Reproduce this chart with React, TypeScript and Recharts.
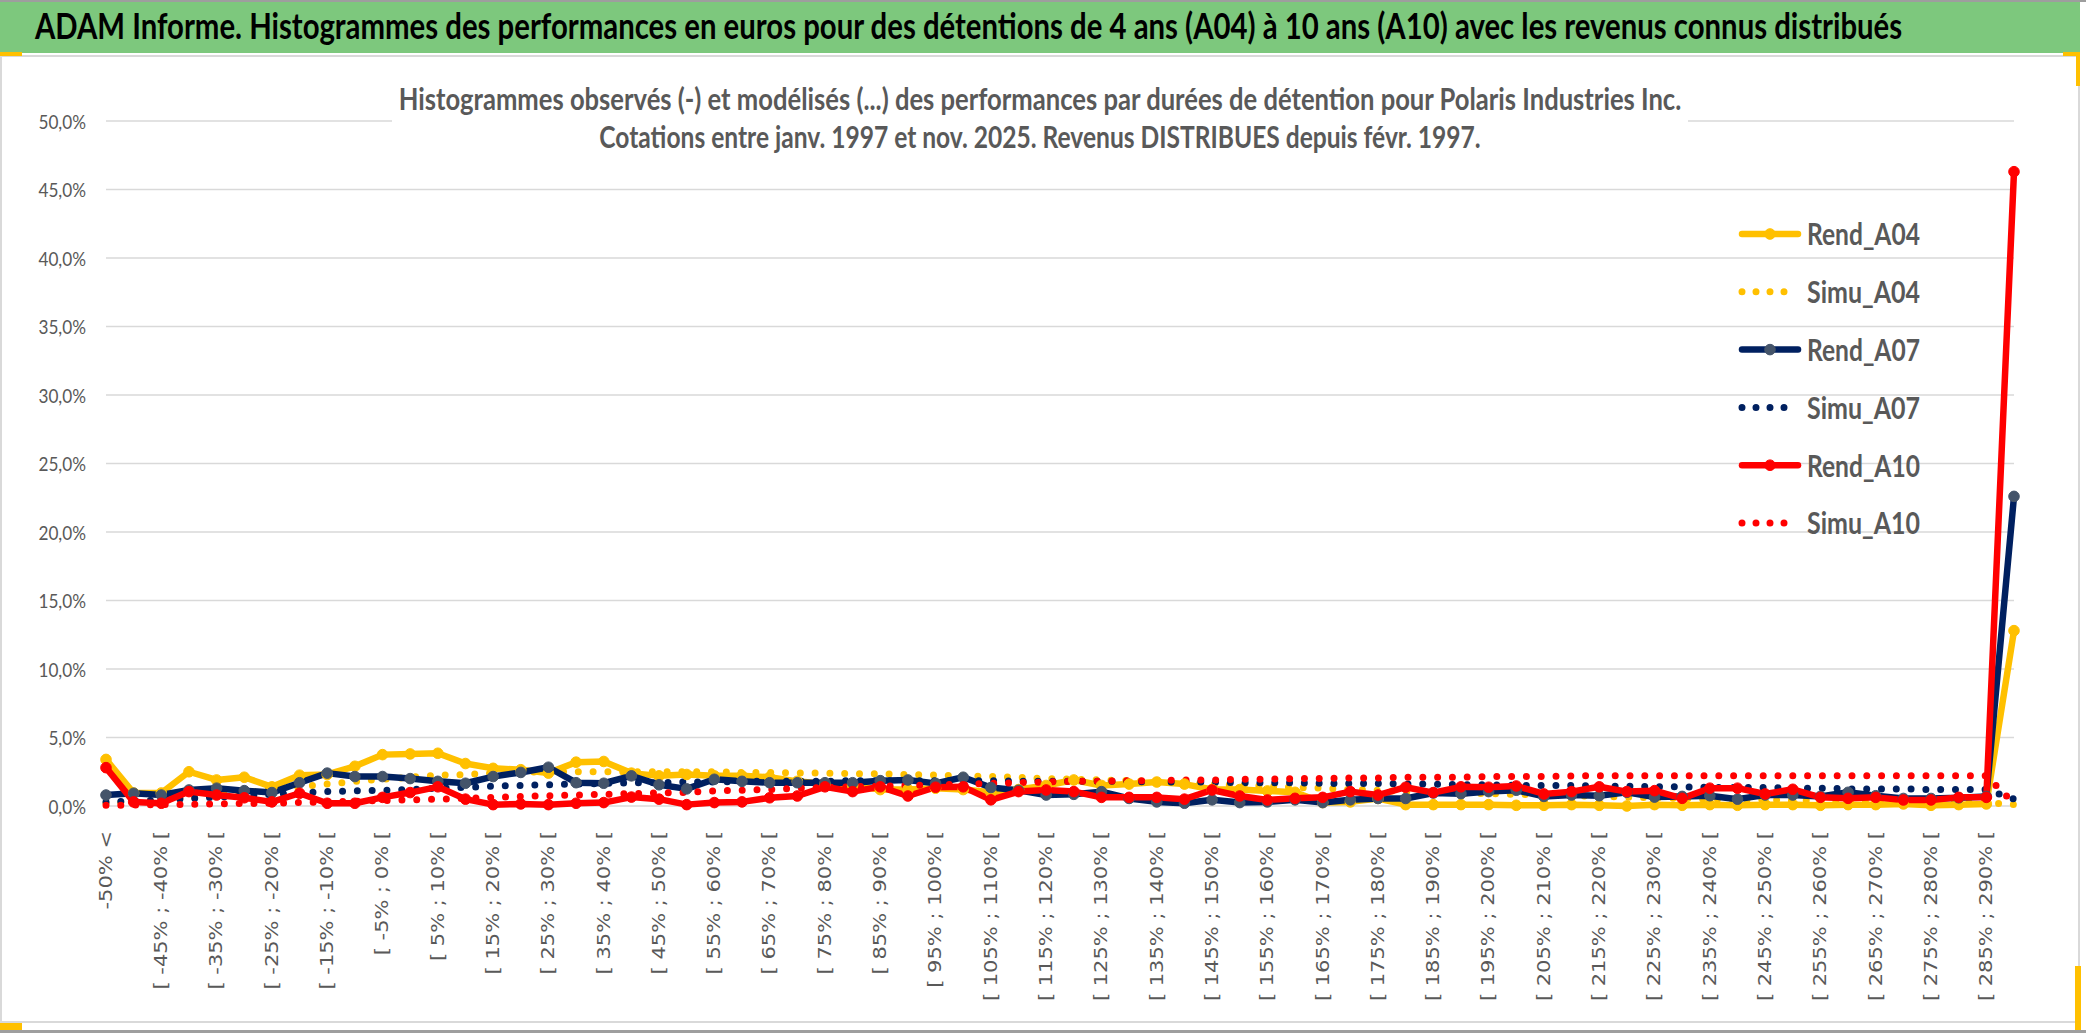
import React from "react";
import { CartesianGrid, Legend, Line, LineChart, XAxis, YAxis } from "recharts";

const WIDTH = 2086;
const HEIGHT = 1033;
const TEXT_GREY = "#595959";
const GRID_GREY = "#D9D9D9";
const UI_FAMILY = "Lato";
const UI_FONT = "Lato, 'Open Sans', 'Noto Sans', sans-serif";
const AXIS_FONT = "'DejaVu Sans', Verdana, sans-serif";

const TITLE =
  "ADAM Informe. Histogrammes des performances en euros pour des détentions de 4 ans (A04) à 10 ans (A10) avec les revenus connus distribués";
const SUBTITLE_1 =
  "Histogrammes observés (-) et modélisés (...) des performances par durées de détention pour Polaris Industries Inc.";
const SUBTITLE_2 = "Cotations entre janv. 1997 et nov. 2025. Revenus DISTRIBUES depuis févr. 1997.";

const CATEGORIES = [
  "-50% <",
  "[ -50% ; -45% [", "[ -45% ; -40% [", "[ -40% ; -35% [", "[ -35% ; -30% [", "[ -30% ; -25% [",
  "[ -25% ; -20% [", "[ -20% ; -15% [", "[ -15% ; -10% [", "[ -10% ; -5% [", "[ -5% ; 0% [",
  "[ 0% ; 5% [", "[ 5% ; 10% [", "[ 10% ; 15% [", "[ 15% ; 20% [", "[ 20% ; 25% [",
  "[ 25% ; 30% [", "[ 30% ; 35% [", "[ 35% ; 40% [", "[ 40% ; 45% [", "[ 45% ; 50% [",
  "[ 50% ; 55% [", "[ 55% ; 60% [", "[ 60% ; 65% [", "[ 65% ; 70% [", "[ 70% ; 75% [",
  "[ 75% ; 80% [", "[ 80% ; 85% [", "[ 85% ; 90% [", "[ 90% ; 95% [", "[ 95% ; 100% [",
  "[ 100% ; 105% [", "[ 105% ; 110% [", "[ 110% ; 115% [", "[ 115% ; 120% [", "[ 120% ; 125% [",
  "[ 125% ; 130% [", "[ 130% ; 135% [", "[ 135% ; 140% [", "[ 140% ; 145% [", "[ 145% ; 150% [",
  "[ 150% ; 155% [", "[ 155% ; 160% [", "[ 160% ; 165% [", "[ 165% ; 170% [", "[ 170% ; 175% [",
  "[ 175% ; 180% [", "[ 180% ; 185% [", "[ 185% ; 190% [", "[ 190% ; 195% [", "[ 195% ; 200% [",
  "[ 200% ; 205% [", "[ 205% ; 210% [", "[ 210% ; 215% [", "[ 215% ; 220% [", "[ 220% ; 225% [",
  "[ 225% ; 230% [", "[ 230% ; 235% [", "[ 235% ; 240% [", "[ 240% ; 245% [", "[ 245% ; 250% [",
  "[ 250% ; 255% [", "[ 255% ; 260% [", "[ 260% ; 265% [", "[ 265% ; 270% [", "[ 270% ; 275% [",
  "[ 275% ; 280% [", "[ 280% ; 285% [", "[ 285% ; 290% [",
  "> 290%",
];

const Y_TICKS = [0, 5, 10, 15, 20, 25, 30, 35, 40, 45, 50];
const GRID_EVERY = 4; // vertical gridline every 4 classes

// values in %
const REND_A04 = [
  3.4, 0.95, 0.95, 2.5, 1.9, 2.1, 1.4, 2.25, 2.3, 2.9,
  3.75, 3.8, 3.85, 3.1, 2.75, 2.65, 2.4, 3.2, 3.25, 2.4,
  2.2, 2.3, 2.2, 2.2, 2.1, 1.8, 1.6, 1.5, 1.2, 1.2,
  1.3, 1.2, 1.0, 1.2, 1.5, 1.9, 1.5, 1.6, 1.75, 1.6,
  1.2, 1.2, 1.1, 1.0, 0.25, 0.3, 0.55, 0.1, 0.1, 0.1,
  0.1, 0.05, 0.05, 0.1, 0.05, 0.0, 0.1, 0.05, 0.1, 0.05,
  0.1, 0.1, 0.05, 0.1, 0.1, 0.15, 0.05, 0.1, 0.15, 12.8,
];
const SIMU_A04 = [
  0.2, 0.3, 0.45, 0.6, 0.8, 1.0, 1.2, 1.4, 1.6, 1.8,
  1.95, 2.1, 2.25, 2.3, 2.4, 2.45, 2.5, 2.5, 2.5, 2.5,
  2.5, 2.5, 2.5, 2.45, 2.45, 2.4, 2.4, 2.35, 2.35, 2.3,
  2.25, 2.2, 2.15, 2.1, 2.0, 1.95, 1.9, 1.85, 1.8, 1.7,
  1.6, 1.5, 1.45, 1.35, 1.3, 1.2, 1.15, 1.05, 1.0, 0.95,
  0.9, 0.85, 0.8, 0.75, 0.7, 0.65, 0.6, 0.55, 0.5, 0.5,
  0.45, 0.4, 0.4, 0.35, 0.35, 0.3, 0.3, 0.25, 0.25, 0.1,
];
const REND_A07 = [
  0.8, 0.93, 0.8, 1.17, 1.3, 1.12, 0.98, 1.7, 2.4, 2.15,
  2.15, 2.0, 1.8, 1.66, 2.15, 2.45, 2.83, 1.7, 1.66, 2.2,
  1.55, 1.25, 1.95, 1.8, 1.7, 1.7, 1.7, 1.7, 1.85, 1.9,
  1.65, 2.1, 1.35, 1.15, 0.8, 0.85, 1.05, 0.55, 0.3, 0.2,
  0.45, 0.25, 0.3, 0.45, 0.25, 0.45, 0.55, 0.55, 0.95, 0.9,
  1.05, 1.15, 0.7, 0.8, 0.75, 1.0, 0.65, 0.7, 0.75, 0.5,
  0.8, 0.8, 0.7, 1.0, 0.75, 0.55, 0.55, 0.6, 0.7, 22.6,
];
const SIMU_A07 = [
  0.3, 0.35, 0.45, 0.55, 0.65, 0.75, 0.85, 0.95, 1.05, 1.1,
  1.15, 1.2, 1.3, 1.35, 1.45, 1.5, 1.55, 1.6, 1.65, 1.7,
  1.7, 1.75, 1.75, 1.8, 1.8, 1.8, 1.8, 1.85, 1.85, 1.85,
  1.85, 1.85, 1.85, 1.8, 1.8, 1.8, 1.8, 1.8, 1.75, 1.75,
  1.75, 1.7, 1.7, 1.7, 1.65, 1.65, 1.65, 1.6, 1.6, 1.55,
  1.55, 1.5, 1.5, 1.5, 1.45, 1.45, 1.4, 1.4, 1.35, 1.35,
  1.35, 1.3, 1.3, 1.25, 1.25, 1.25, 1.2, 1.2, 1.2, 0.5,
];
const REND_A10 = [
  2.8, 0.3, 0.2, 1.05, 0.8, 0.6, 0.3, 0.93, 0.2, 0.2,
  0.63, 0.98, 1.4, 0.5, 0.1, 0.15, 0.1, 0.2, 0.25, 0.65,
  0.5, 0.1, 0.25, 0.3, 0.6, 0.73, 1.4, 1.05, 1.4, 0.73,
  1.37, 1.4, 0.45, 1.05, 1.17, 1.05, 0.63, 0.63, 0.63, 0.5,
  1.17, 0.73, 0.44, 0.56, 0.63, 1.05, 0.8, 1.37, 0.98, 1.4,
  1.37, 1.46, 0.88, 1.05, 1.4, 1.05, 1.12, 0.56, 1.3, 1.3,
  0.88, 1.22, 0.63, 0.56, 0.63, 0.44, 0.44, 0.63, 0.63, 46.3,
];
const SIMU_A10 = [
  0.05, 0.07, 0.1, 0.12, 0.15, 0.18, 0.2, 0.25, 0.3, 0.35,
  0.4, 0.45, 0.5, 0.55, 0.62, 0.7, 0.75, 0.8, 0.85, 0.9,
  0.95, 1.0, 1.1, 1.15, 1.2, 1.3, 1.35, 1.4, 1.45, 1.5,
  1.55, 1.6, 1.65, 1.7, 1.75, 1.8, 1.8, 1.85, 1.85, 1.9,
  1.9, 1.95, 1.95, 2.0, 2.0, 2.05, 2.05, 2.1, 2.1, 2.1,
  2.15, 2.15, 2.15, 2.2, 2.2, 2.2, 2.2, 2.2, 2.2, 2.2,
  2.2, 2.2, 2.2, 2.2, 2.2, 2.2, 2.2, 2.2, 2.2, 0.2,
];

interface SeriesSpec {
  key: string;
  values: number[];
  color: string;
  marker?: string;
  dotted: boolean;
}

const SERIES: SeriesSpec[] = [
  { key: "Rend_A04", values: REND_A04, color: "#FFC000", marker: "#FFC000", dotted: false },
  { key: "Simu_A04", values: SIMU_A04, color: "#FFC000", dotted: true },
  { key: "Rend_A07", values: REND_A07, color: "#002060", marker: "#44546A", dotted: false },
  { key: "Simu_A07", values: SIMU_A07, color: "#002060", dotted: true },
  { key: "Rend_A10", values: REND_A10, color: "#FF0000", marker: "#FF0000", dotted: false },
  { key: "Simu_A10", values: SIMU_A10, color: "#FF0000", dotted: true },
];

const chartData = CATEGORIES.map((category, i) => {
  const row: Record<string, string | number> = { category };
  SERIES.forEach(s => {
    row[s.key] = s.values[i];
  });
  return row;
});

const formatPct = (v: number) => `${v.toFixed(1).replace(".", ",")}%`;

// measure text so the narrow Excel look can be had with a plain horizontal scale
const measureCtx = typeof document !== "undefined" ? document.createElement("canvas").getContext("2d") : null;
function naturalWidth(text: string, size: number, weight: number): number {
  if (!measureCtx) return 0;
  measureCtx.font = `${weight} ${size}px ${UI_FAMILY}, sans-serif`;
  return measureCtx.measureText(text).width;
}

interface FitTextProps {
  x: number;
  y: number;
  width: number;
  size: number;
  weight?: number;
  fill: string;
  anchor?: "start" | "middle" | "end";
  baseline?: string;
  children: string;
}

function FitText({ x, y, width, size, weight = 700, fill, anchor = "start", baseline, children }: FitTextProps) {
  const w = naturalWidth(children, size, weight) || width;
  const sx = width / w;
  return (
    <text
      transform={`translate(${x},${y}) scale(${sx.toFixed(4)},1)`}
      textAnchor={anchor}
      dominantBaseline={baseline}
      fontSize={size}
      fontWeight={weight}
      fontFamily={UI_FONT}
      fill={fill}
    >
      {children}
    </text>
  );
}

function YTick(props: any) {
  const { x, y, payload } = props;
  return (
    <text
      transform={`translate(${x},${y}) scale(0.86,1)`}
      textAnchor="end"
      dominantBaseline="central"
      fill={TEXT_GREY}
      fontSize={20}
      fontFamily={UI_FONT}
    >
      {formatPct(payload.value)}
    </text>
  );
}

function XTick(props: any) {
  const { x, y, payload } = props;
  return (
    <g transform={`translate(${x},${y})`}>
      <text
        transform="rotate(-90) scale(1,0.82)"
        textAnchor="end"
        dominantBaseline="central"
        fill={TEXT_GREY}
        fontSize={21}
        fontFamily={AXIS_FONT}
      >
        {payload.value}
      </text>
    </g>
  );
}

// vertical gridlines only every GRID_EVERY classes, placed by the x scale
function verticalGrid(props: any): number[] {
  const scale = props?.xAxis?.scale;
  if (typeof scale !== "function") return [];
  return CATEGORIES.filter((_, i) => i % GRID_EVERY === 0).map(c => scale(c));
}

const LEGEND_ROW = 57.8;

function LegendContent(props: any) {
  const payload: any[] = props.payload || [];
  const ordered = SERIES.map(s => payload.find(p => p.dataKey === s.key || p.value === s.key)).filter(Boolean);
  return (
    <svg width={260} height={340} style={{ display: "block" }}>
      {ordered.map((p: any, i: number) => {
        const spec = SERIES.find(s => s.key === p.dataKey || s.key === p.value)!;
        const cy = 22 + i * LEGEND_ROW;
        return (
          <g key={spec.key}>
            {spec.dotted ? (
              <line x1={9} x2={64} y1={cy} y2={cy} stroke={spec.color} strokeWidth={7} strokeDasharray="0 14" strokeLinecap="round" />
            ) : (
              <g>
                <line x1={9} x2={65} y1={cy} y2={cy} stroke={spec.color} strokeWidth={6.5} strokeLinecap="round" />
                <circle cx={37} cy={cy} r={5.3} fill={spec.marker} stroke={spec.marker} />
              </g>
            )}
            <FitText x={74} y={cy} width={113} size={30} fill={TEXT_GREY} baseline="central">
              {String(p.value)}
            </FitText>
          </g>
        );
      })}
    </svg>
  );
}

export default function App() {
  return (
    <div style={{ position: "absolute", left: 0, top: 0, width: WIDTH, height: HEIGHT, background: "#fff", overflow: "hidden" }}>
      <style>{"body{margin:0;overflow:hidden}"}</style>

      {/* frame and title band */}
      <svg width={WIDTH} height={HEIGHT} style={{ position: "absolute", left: 0, top: 0 }}>
        <rect x={0} y={0} width={WIDTH} height={2} fill="#9E9E9E" />
        <rect x={0} y={2} width={2080} height={51} fill="#7DC87D" />
        <rect x={1} y={56} width={2078} height={966} fill="none" stroke={GRID_GREY} strokeWidth={2} />
        <rect x={0} y={1030} width={WIDTH} height={3} fill="#9E9E9E" />
        <rect x={0} y={52} width={22} height={4} fill="#FFC000" />
        <rect x={2063} y={52} width={16} height={4} fill="#FFC000" />
        <rect x={2076} y={52} width={4} height={34} fill="#FFC000" />
        <rect x={0} y={1023} width={22} height={7} fill="#FFC000" />
        <rect x={2075} y={966} width={6} height={64} fill="#FFC000" />
        <FitText x={35} y={39} width={1868} size={36} fill="#000">
          {TITLE}
        </FitText>
      </svg>

      <div style={{ position: "absolute", left: 0, top: 0 }}>
        <LineChart width={WIDTH} height={HEIGHT} data={chartData} margin={{ top: 121, right: 72, bottom: 0, left: 0 }}>
          <CartesianGrid stroke={GRID_GREY} strokeWidth={1.6} verticalCoordinatesGenerator={verticalGrid} />
          <XAxis
            dataKey="category"
            scale="point"
            padding={{ left: 0, right: 0 }}
            height={227}
            interval={1}
            axisLine={false}
            tickLine={false}
            tickSize={0}
            tickMargin={25}
            tick={<XTick />}
          />
          <YAxis
            domain={[0, 50]}
            ticks={Y_TICKS}
            width={106}
            axisLine={false}
            tickLine={false}
            tickSize={0}
            tickMargin={20}
            tick={<YTick />}
          />
          <Legend
            layout="vertical"
            align="center"
            verticalAlign="middle"
            content={<LegendContent />}
            wrapperStyle={{ left: 1733, top: 212, width: 260, height: 340 }}
          />
          {SERIES.map(s =>
            s.dotted ? (
              <Line
                key={s.key}
                type="linear"
                dataKey={s.key}
                name={s.key}
                stroke={s.color}
                strokeWidth={7}
                strokeDasharray="0 14.8"
                strokeLinecap="round"
                dot={false}
                activeDot={false}
                isAnimationActive={false}
              />
            ) : (
              <Line
                key={s.key}
                type="linear"
                dataKey={s.key}
                name={s.key}
                stroke={s.color}
                strokeWidth={6.5}
                strokeLinejoin="round"
                dot={{ r: 5.3, fill: s.marker, stroke: s.marker, strokeWidth: 1 }}
                activeDot={false}
                isAnimationActive={false}
              />
            )
          )}
        </LineChart>
      </div>

      {/* chart subtitle on its white box */}
      <svg width={WIDTH} height={HEIGHT} style={{ position: "absolute", left: 0, top: 0, pointerEvents: "none" }}>
        <rect x={392} y={74} width={1296} height={91} fill="#fff" />
        <FitText x={1040} y={110} width={1284} size={30} fill={TEXT_GREY} anchor="middle">
          {SUBTITLE_1}
        </FitText>
        <FitText x={1040} y={148} width={882} size={30} fill={TEXT_GREY} anchor="middle">
          {SUBTITLE_2}
        </FitText>
      </svg>
    </div>
  );
}
